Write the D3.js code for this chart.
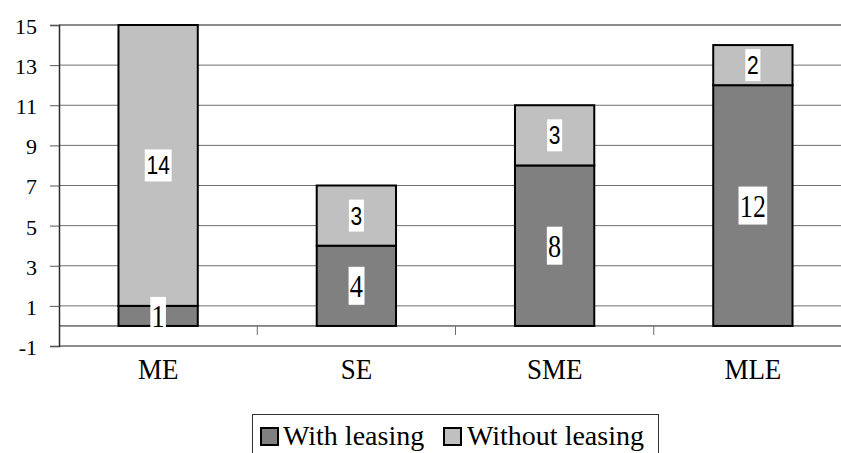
<!DOCTYPE html>
<html>
<head>
<meta charset="utf-8">
<script src="https://cdn.jsdelivr.net/npm/d3@7"></script>
<style>
  html, body { margin: 0; padding: 0; background: #fff; }
  svg { display: block; }
</style>
</head>
<body>
<svg id="chart" width="841" height="453"></svg>
<script>
// Enterprise groups and the count of firms with / without leasing
const categories = ["ME", "SE", "SME", "MLE"];
const withLeasing = [1, 4, 8, 12];
const withoutLeasing = [14, 3, 3, 2];
const seriesNames = ["With leasing", "Without leasing"];
const yTicks = [-1, 1, 3, 5, 7, 9, 11, 13, 15];

const SERIF = '"Liberation Serif"';
const SANS = '"Liberation Sans"';

const svg = d3.select("#chart");
const W = 841, H = 453;

const plot = { left: 59, right: 852, top: 25, bottom: 346 };

const x = d3.scaleBand().domain(categories).range([plot.left, plot.right]).padding(0);
const y = d3.scaleLinear().domain([-1, 15]).range([plot.bottom, plot.top]);

// horizontal gridlines
svg.append("g")
  .selectAll("line")
  .data(yTicks.filter(d => d > -1 && d < 15))
  .join("line")
  .attr("x1", plot.left).attr("x2", W)
  .attr("y1", d => y(d)).attr("y2", d => y(d))
  .attr("stroke", "#6e6e6e").attr("stroke-width", 1);

// plot-area border lines (top and bottom)
svg.append("line")
  .attr("x1", plot.left).attr("x2", W)
  .attr("y1", y(15)).attr("y2", y(15))
  .attr("stroke", "#8c8c8c").attr("stroke-width", 2);
svg.append("line")
  .attr("x1", plot.left).attr("x2", W)
  .attr("y1", y(-1)).attr("y2", y(-1))
  .attr("stroke", "#8c8c8c").attr("stroke-width", 2);

// category axis at zero with tick marks between groups
svg.append("line")
  .attr("x1", plot.left).attr("x2", W)
  .attr("y1", y(0)).attr("y2", y(0))
  .attr("stroke", "#1a1a1a").attr("stroke-width", 1);
svg.append("g")
  .selectAll("line")
  .data(categories.slice(1))
  .join("line")
  .attr("x1", d => x(d)).attr("x2", d => x(d))
  .attr("y1", y(0)).attr("y2", y(0) + 9)
  .attr("stroke", "#6e6e6e").attr("stroke-width", 1);

// value axis
const yAxis = d3.axisLeft(y).tickValues(yTicks).tickSize(9).tickPadding(13).tickFormat(d3.format("d"));
const gy = svg.append("g").attr("transform", `translate(${plot.left},0)`).call(yAxis);
gy.attr("font-family", null).attr("font-size", null);
gy.select(".domain").attr("stroke", "#2a2a2a").attr("stroke-width", 1.5);
gy.selectAll(".tick line").attr("stroke", "#555").attr("stroke-width", 1);
gy.selectAll(".tick text")
  .style("font-family", SERIF)
  .style("font-size", "22px").attr("fill", "#000")
  .attr("dy", "0.38em")
  .text(d => d < 0 ? "-" + Math.abs(d) : d);

// stacked bars
const rows = categories.map((c, i) => ({ cat: c, a: withLeasing[i], b: withoutLeasing[i] }));
const stack = d3.stack().keys(["a", "b"]);
const layers = stack(rows);
const colors = ["#808080", "#c0c0c0"];
const barW = x.bandwidth() * 0.4;

layers.forEach((layer, li) => {
  svg.append("g")
    .selectAll("rect")
    .data(layer)
    .join("rect")
    .attr("x", d => x(d.data.cat) + x.bandwidth() / 2 - barW / 2)
    .attr("y", d => y(d[1]))
    .attr("width", barW)
    .attr("height", d => y(d[0]) - y(d[1]))
    .attr("fill", colors[li])
    .attr("stroke", "#000")
    .attr("stroke-width", 2);
});

// value labels on white boxes
const labelStyles = [
  { family: SERIF, size: 32, sx: 0.82, boxH: 38, base: 11, pad: 1.5 },
  { family: SANS, size: 25, sx: 0.84, boxH: 32, base: 9, pad: 2 }
];
layers.forEach((layer, li) => {
  const st = labelStyles[li];
  layer.forEach(d => {
    const v = d[1] - d[0];
    const cx = x(d.data.cat) + x.bandwidth() / 2;
    const cy = y((d[0] + d[1]) / 2);
    const g = svg.append("g").attr("transform", `translate(${cx},${cy}) scale(${st.sx},1)`);
    const rect = g.append("rect").attr("fill", "#fff");
    const t = g.append("text")
      .style("font-family", st.family)
      .style("font-size", st.size + "px")
      .attr("text-anchor", "middle")
      .attr("y", st.base)
      .attr("fill", "#000")
      .text(v);
    const bb = t.node().getBBox();
    rect.attr("x", bb.x - st.pad).attr("width", bb.width + 2 * st.pad)
      .attr("y", -st.boxH / 2).attr("height", st.boxH);
  });
});

// category labels
svg.append("g")
  .selectAll("text")
  .data(categories)
  .join("text")
  .style("font-family", SERIF)
  .style("font-size", "30px")
  .attr("transform", d => `translate(${x(d) + x.bandwidth() / 2},379) scale(0.9,1)`)
  .attr("text-anchor", "middle")
  .attr("fill", "#000")
  .text(d => d);

// legend
const legend = svg.append("g");
legend.append("rect")
  .attr("x", 252.5).attr("y", 414.5).attr("width", 406).attr("height", 50)
  .attr("fill", "#fff").attr("stroke", "#333").attr("stroke-width", 1);
const legendItems = [
  { name: seriesNames[0], color: colors[0], sq: 260, tx: 283 },
  { name: seriesNames[1], color: colors[1], sq: 443, tx: 467 }
];
legendItems.forEach(it => {
  legend.append("rect")
    .attr("x", it.sq + 1).attr("y", 428).attr("width", 17).attr("height", 17)
    .attr("fill", it.color).attr("stroke", "#000").attr("stroke-width", 2);
  legend.append("text")
    .style("font-family", SERIF)
    .style("font-size", "28px")
    .attr("x", it.tx).attr("y", 445)
    .attr("fill", "#000")
    .text(it.name);
});
</script>
</body>
</html>
